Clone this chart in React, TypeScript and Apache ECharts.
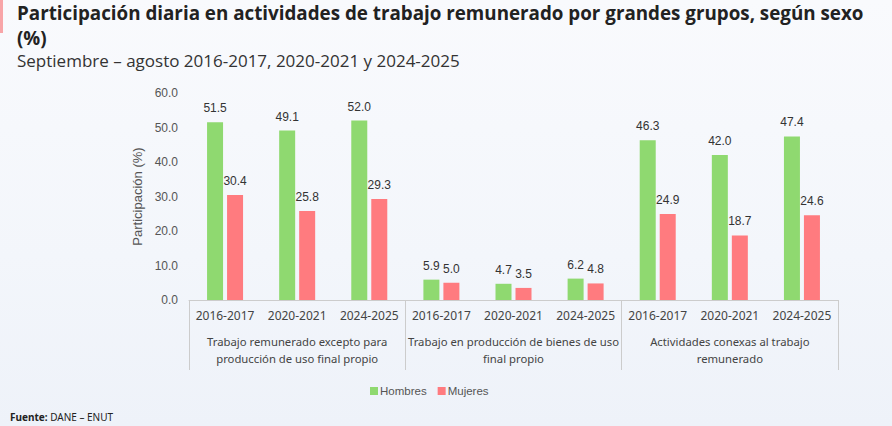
import React, { useEffect, useRef } from "react";
import * as echarts from "echarts";

const periods = ["2016-2017", "2020-2021", "2024-2025"];
const groups = [
  "Trabajo remunerado excepto para\nproducción de uso final propio",
  "Trabajo en producción de bienes de uso\nfinal propio",
  "Actividades conexas al trabajo\nremunerado",
];
const hombres = [51.5, 49.1, 52.0, 5.9, 4.7, 6.2, 46.3, 42.0, 47.4];
const mujeres = [30.4, 25.8, 29.3, 5.0, 3.5, 4.8, 24.9, 18.7, 24.6];
const yTicks = [0, 10, 20, 30, 40, 50, 60];

const categories = groups.flatMap(() => periods);

export default function App() {
  const ref = useRef<HTMLDivElement>(null);
  useEffect(() => {
    document.body.style.margin = "0";
    const chart = echarts.init(ref.current!, undefined, { renderer: "svg" });
    const valFont = "'Liberation Sans', Arial, sans-serif";
    const catFont = "'Noto Sans', 'Open Sans', sans-serif";
    const titleStyle = {
      fontSize: 18.8,
      fontWeight: "bold",
      color: "#222",
      lineHeight: 19,
      fontFamily: "'Open Sans', 'Noto Sans', sans-serif",
    };
    chart.setOption({
      animation: false,
      backgroundColor: "transparent",
      title: [
        {
          text: "Participación diaria en actividades de trabajo remunerado por grandes grupos, según sexo",
          left: 17,
          top: 3,
          padding: 0,
          textStyle: titleStyle,
        },
        {
          text: "(%)",
          left: 17,
          top: 28,
          padding: 0,
          textStyle: titleStyle,
        },
        {
          text: "Septiembre – agosto 2016-2017, 2020-2021 y 2024-2025",
          left: 17,
          top: 51,
          padding: 0,
          textStyle: {
            fontSize: 17,
            fontWeight: "normal",
            color: "#333",
            lineHeight: 18,
            fontFamily: "'Open Sans', 'Noto Sans', sans-serif",
          },
        },
      ],
      graphic: [
        { type: "rect", left: 0, top: 0, shape: { width: 3, height: 33 }, style: { fill: "#f8a5a8" } },
        {
          type: "text",
          left: 10,
          top: 412,
          style: {
            text: "{b|Fuente:} DANE – ENUT",
            rich: { b: { fontWeight: "bold", fontSize: 10, fill: "#222", fontFamily: catFont } },
            fontSize: 10,
            fill: "#222",
            fontFamily: catFont,
          },
        },
      ],
      legend: {
        data: ["Hombres", "Mujeres"],
        left: 365,
        top: 380,
        itemWidth: 8,
        itemHeight: 8,
        itemGap: 11,
        icon: "rect",
        textStyle: { fontSize: 11.5, color: "#555", fontFamily: valFont, padding: [0, 0, 0, -3] },
      },
      grid: { left: 189, right: 54, top: 93, bottom: 126 },
      xAxis: [
        {
          type: "category",
          data: categories,
          axisLine: { show: true, lineStyle: { color: "#ccc" } },
          axisTick: { show: false },
          axisLabel: { interval: 0, margin: 9, fontSize: 12, color: "#444", fontFamily: catFont },
        },
        {
          type: "category",
          data: groups,
          position: "bottom",
          axisLine: { show: false },
          axisTick: { show: true, length: 70, interval: 0, lineStyle: { color: "#ccc" } },
          axisLabel: {
            interval: 0,
            margin: 33,
            fontSize: 11.3,
            lineHeight: 17,
            color: "#444",
            fontFamily: catFont,
          },
        },
      ],
      yAxis: {
        type: "value",
        min: yTicks[0],
        max: yTicks[yTicks.length - 1],
        interval: 10,
        name: "Participación (%)",
        nameLocation: "middle",
        nameGap: 44,
        nameTextStyle: { fontSize: 13, color: "#555", fontFamily: valFont },
        axisLine: { show: false },
        axisTick: { show: false },
        splitLine: { show: false },
        axisLabel: {
          margin: 11,
          fontSize: 12,
          color: "#555",
          fontFamily: valFont,
          formatter: (v: number) => v.toFixed(1),
        },
      },
      series: [
        {
          name: "Hombres",
          type: "bar",
          data: hombres,
          barWidth: 16,
          barGap: "25%",
          itemStyle: { color: "#8fd970" },
          label: {
            show: true,
            position: "top",
            distance: 8,
            fontSize: 12,
            color: "#333",
            fontFamily: valFont,
            formatter: (p: any) => Number(p.value).toFixed(1),
          },
        },
        {
          name: "Mujeres",
          type: "bar",
          data: mujeres,
          barWidth: 16,
          barGap: "25%",
          itemStyle: { color: "#ff7b7f" },
          label: {
            show: true,
            position: "top",
            distance: 8,
            fontSize: 12,
            color: "#333",
            fontFamily: valFont,
            formatter: (p: any) => Number(p.value).toFixed(1),
          },
        },
      ],
    });
    return () => chart.dispose();
  }, []);
  return (
    <div
      style={{
        width: 892,
        height: 426,
        background: "linear-gradient(180deg, #f9fafd 0%, #f3f6fb 60%, #eef2f9 100%)",
      }}
    >
      <div ref={ref} style={{ width: 892, height: 426 }} />
    </div>
  );
}
